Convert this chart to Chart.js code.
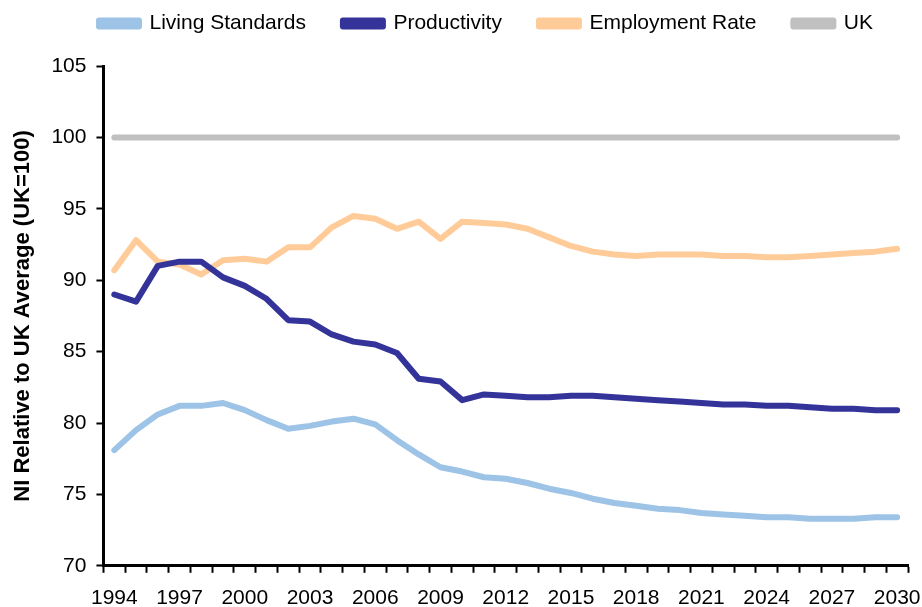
<!DOCTYPE html>
<html>
<head>
<meta charset="utf-8">
<script src="https://cdn.jsdelivr.net/npm/chart.js@4.4.1/dist/chart.umd.min.js"></script>
<style>
  html, body { margin: 0; padding: 0; background: #fff; }
  #wrap { width: 922px; height: 607px; }
</style>
</head>
<body>
<div id="wrap"><canvas id="chart" width="922" height="607"></canvas></div>
<script>
// Years on the x axis
const years = [];
for (let y = 1994; y <= 2030; y++) years.push(String(y));

// Series values (NI relative to UK = 100)
const livingStandards = [78.1, 79.5, 80.6, 81.2, 81.2, 81.4, 80.9, 80.2, 79.6, 79.8, 80.1, 80.3, 79.9,
  78.8, 77.8, 76.9, 76.6, 76.2, 76.1, 75.8, 75.4, 75.1, 74.7, 74.4, 74.2, 74.0, 73.9, 73.7, 73.6,
  73.5, 73.4, 73.4, 73.3, 73.3, 73.3, 73.4, 73.4];
const productivity = [89.0, 88.5, 91.0, 91.3, 91.3, 90.2, 89.6, 88.7, 87.2, 87.1, 86.2, 85.7, 85.5,
  84.9, 83.1, 82.9, 81.6, 82.0, 81.9, 81.8, 81.8, 81.9, 81.9, 81.8, 81.7, 81.6, 81.5, 81.4, 81.3,
  81.3, 81.2, 81.2, 81.1, 81.0, 81.0, 80.9, 80.9];
const employmentRate = [90.7, 92.8, 91.3, 91.1, 90.4, 91.4, 91.5, 91.3, 92.3, 92.3, 93.7, 94.5, 94.3,
  93.6, 94.1, 92.9, 94.1, 94.0, 93.9, 93.6, 93.0, 92.4, 92.0, 91.8, 91.7, 91.8, 91.8, 91.8, 91.7,
  91.7, 91.6, 91.6, 91.7, 91.8, 91.9, 92.0, 92.2];
const ukAverage = years.map(() => 100);

const yTicks = [70, 75, 80, 85, 90, 95, 100, 105];

const FONT = "'Liberation Sans', Arial, sans-serif";

function series(label, data, color) {
  return {
    label: label,
    data: data,
    borderColor: color,
    backgroundColor: color,
    borderWidth: 6,
    pointRadius: 0,
    tension: 0,
    borderJoinStyle: 'round',
    borderCapStyle: 'round',
    fill: false
  };
}

// extra room under the legend, and slide it right so it sits like the original
const legendSpacer = {
  id: 'legendSpacer',
  beforeInit(chart) {
    const legend = chart.legend;
    if (!legend) return;
    const fit = legend.fit;
    legend.fit = function () {
      fit.call(legend);
      legend.height += 22;
    };
  },
  afterLayout(chart) {
    if (chart.legend) {
      chart.legend.left += 32;
      chart.legend.right += 32;
    }
  }
};

const ctx = document.getElementById('chart').getContext('2d');
new Chart(ctx, {
  type: 'line',
  data: {
    labels: years,
    datasets: [
      series('Living Standards', livingStandards, '#9DC3E6'),
      series('Productivity', productivity, '#333399'),
      series('Employment Rate', employmentRate, '#FFCC99'),
      series('UK', ukAverage, '#C0C0C0')
    ]
  },
  plugins: [legendSpacer],
  options: {
    responsive: false,
    animation: false,
    layout: { padding: { top: -24, right: 14, bottom: -17, left: 0 } },
    plugins: {
      tooltip: { enabled: false },
      legend: {
        position: 'top',
        labels: {
          boxWidth: 40,
          boxHeight: 6,
          padding: 37,
          color: '#000',
          font: { family: FONT, size: 21 }
        }
      }
    },
    scales: {
      x: {
        offset: true,
        // let the last year label run into the right margin
        afterFit: function (scale) { scale.paddingRight = 0; },
        grid: {
          offset: true,
          drawOnChartArea: false,
          drawTicks: true,
          tickLength: 7,
          tickWidth: 2,
          tickColor: '#000'
        },
        border: { color: '#000', width: 3 },
        ticks: {
          autoSkip: false,
          maxRotation: 0,
          color: '#000',
          padding: 13,
          font: { family: FONT, size: 21 },
          callback: function (v, i) { return i % 3 === 0 ? years[i] : ''; }
        }
      },
      y: {
        min: 70,
        max: 105,
        afterBuildTicks: function (axis) { axis.ticks = yTicks.map(v => ({ value: v })); },
        grid: {
          drawOnChartArea: false,
          tickLength: 7,
          tickWidth: 2,
          tickColor: '#000'
        },
        border: { color: '#000', width: 3 },
        ticks: {
          color: '#000',
          padding: 10,
          font: { family: FONT, size: 21 }
        },
        title: {
          display: true,
          text: 'NI Relative to UK Average (UK=100)',
          color: '#000',
          font: { family: FONT, size: 22, weight: 'bold' },
          padding: { top: 10, bottom: 5 }
        }
      }
    }
  }
});
</script>
</body>
</html>
